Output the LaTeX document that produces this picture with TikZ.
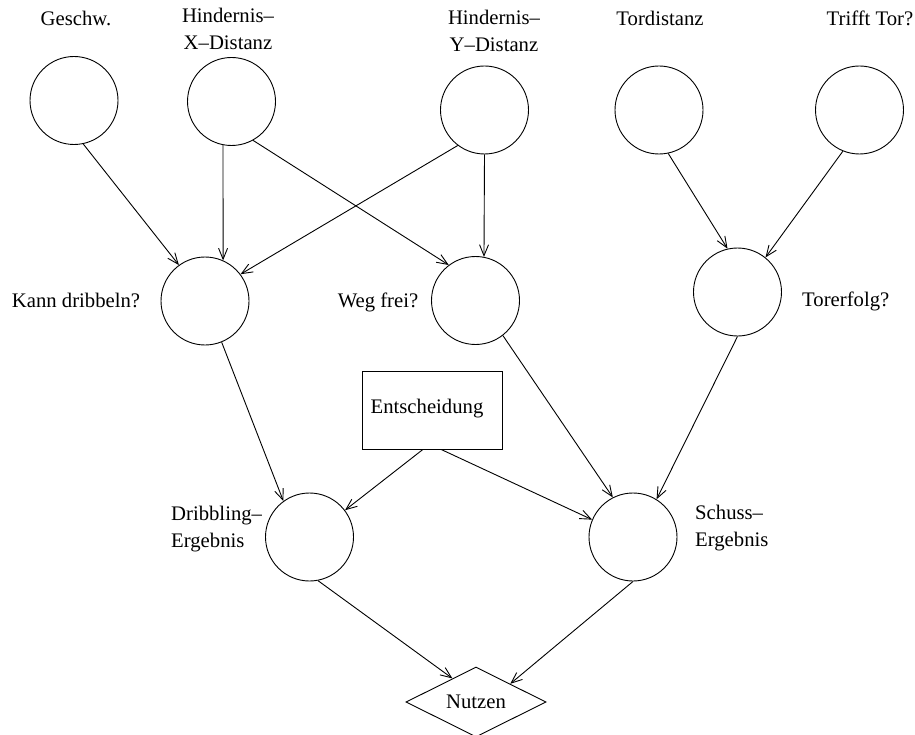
\documentclass[tikz,border=0pt]{standalone}
\usepackage{fontspec}
\setmainfont{Liberation Serif}
\usetikzlibrary{shapes.geometric,arrows.meta}
\begin{document}
\begin{tikzpicture}[x=1pt,y=-1pt,
  every node/.style={font=\fontsize{20.7}{27.5}\selectfont},
  var/.style={circle,draw,line width=0.9pt,minimum size=88pt,inner sep=0pt},
  decision/.style={rectangle,draw,line width=0.9pt,minimum width=140pt,minimum height=78pt,inner sep=0pt},
  utility/.style={diamond,draw,line width=0.9pt,aspect=2,minimum width=140pt,minimum height=70pt,inner sep=0pt},
  lbl/.style={inner sep=0pt},
  link/.style={line width=0.9pt,-{Straight Barb[length=11pt,width=9pt,line width=0.9pt]}}]
\useasboundingbox (0,0) rectangle (915,735);

% chance nodes
\node[var] (geschw) at (74,100.5) {};
\node[var] (hx) at (231.5,101.5) {};
\node[var] (hy) at (484.5,110) {};
\node[var] (tord) at (659,110) {};
\node[var] (trifft) at (859.5,110) {};
\node[var] (kann) at (205,301) {};
\node[var] (weg) at (475.5,300.5) {};
\node[var] (torerf) at (737.5,292) {};
\node[var] (drib) at (309.5,537) {};
\node[var] (schuss) at (633,537) {};

% decision and utility
\node[decision] (ent) at (432,410) {};
\node[lbl] (entlabel) at (427,409) {Entscheidung};
\node[utility] (nutzen) at (476,702) {Nutzen};

% labels
\node[lbl] (lgeschw) at (76,18) {Geschw.};
\node[lbl,align=center] (lhx) at (228,29) {Hindernis–\\X–Distanz};
\node[lbl,align=center] (lhy) at (494,31) {Hindernis–\\Y–Distanz};
\node[lbl] (ltord) at (660,18) {Tordistanz};
\node[lbl] (ltrifft) at (870,18) {Trifft Tor?};
\node[lbl] (lkann) at (76,300) {Kann dribbeln?};
\node[lbl] (lweg) at (378,302) {Weg frei?};
\node[lbl,anchor=west] (ltorerf) at (802,301) {Torerfolg?};
\node[lbl,anchor=west,align=left] (ldrib) at (171,529) {Dribbling–\\Ergebnis};
\node[lbl,anchor=west,align=left] (lschuss) at (695,528) {Schuss–\\Ergebnis};

% influences
\draw[link] (geschw.-78) -- (kann.126);
\draw[link] (hx.-101) -- (kann.66);
\draw[link] (hx.-61) -- (weg.127);
\draw[link] (hy.-127) -- (kann.37);
\draw[link] (hy.-90) -- (weg.79);
\draw[link] (tord.-78) -- (torerf.103);
\draw[link] (trifft.-112) -- (torerf.51);
\draw[link] (kann.-68) -- (drib.126);
\draw[link] (weg.-52) -- (schuss.117);
\draw[link] (torerf.-90) -- (schuss.58);
\draw[link] (ent.-103) -- (drib.37);
\draw[link] (ent.-77) -- (schuss.157);
\draw[link] (drib.-79) -- (nutzen.135);
\draw[link] (schuss.-90) -- (nutzen.28);
\end{tikzpicture}
\end{document}
